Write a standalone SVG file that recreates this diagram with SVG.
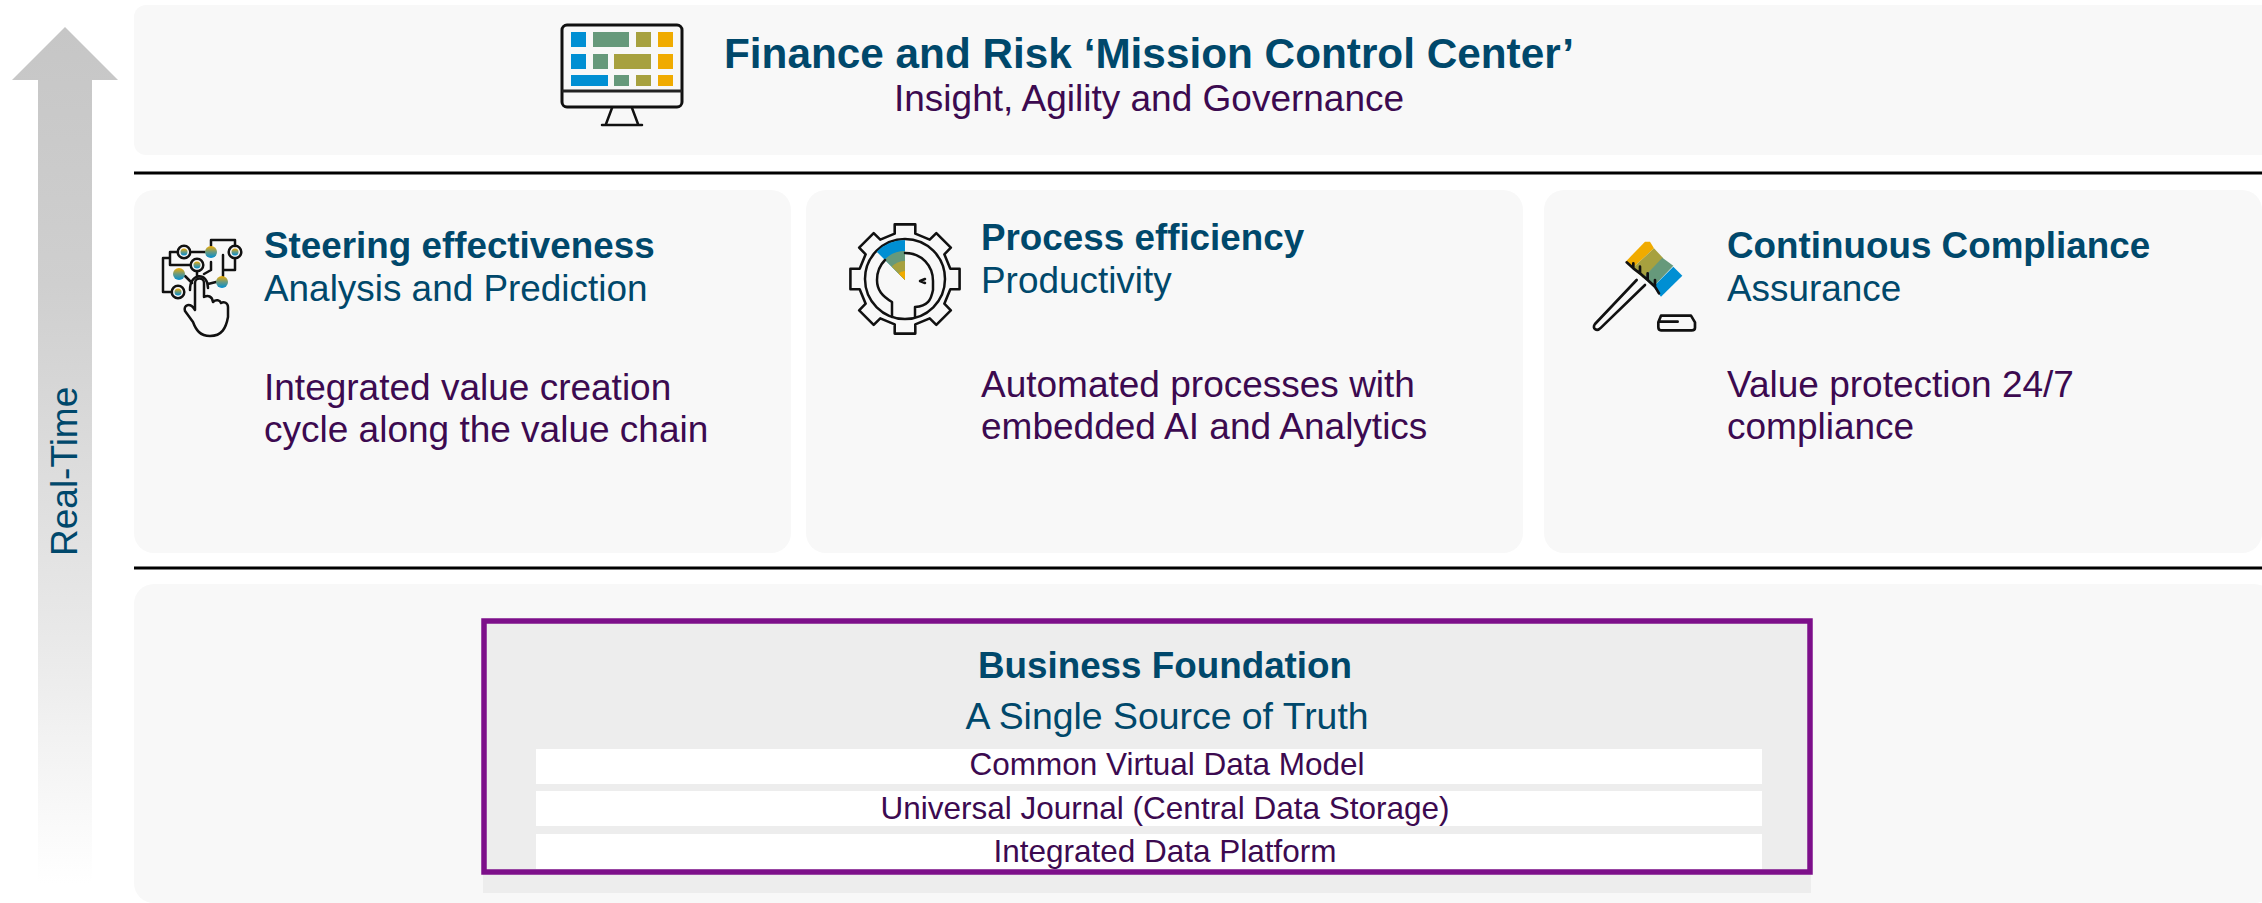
<svg xmlns="http://www.w3.org/2000/svg" width="2262" height="903" viewBox="0 0 2262 903">
<style>
text{font-family:"Liberation Sans",Arial,sans-serif}
.panel{fill:#f8f8f8}
.rule{stroke:#000;stroke-width:3}
.head{fill:#00486b;font-weight:700;font-size:36.800px}
.sub{fill:#00486b;font-size:36.900px}
.body{fill:#3c0a50;font-size:37px}
.row{fill:#3c0a50;font-size:31.500px;text-anchor:middle}
.ink{fill:none;stroke:#111;stroke-width:2.500;stroke-linecap:round;stroke-linejoin:round}
.wh{fill:#fff}
</style>
<defs>
<linearGradient id="arrowGrad" x1="0" y1="0" x2="0" y2="1"><stop offset="0" stop-color="#c6c6c6"/><stop offset=".3" stop-color="#cfcfcf"/><stop offset=".7" stop-color="#e8e8e8"/><stop offset="1" stop-color="#fff"/></linearGradient>
<linearGradient id="dot" x1="0" y1="0" x2="0" y2="1"><stop offset="0" stop-color="#f0ab00"/><stop offset=".5" stop-color="#6a9a80"/><stop offset="1" stop-color="#008fd3"/></linearGradient>
</defs>

<g id="real-time-arrow">
<path d="M65 27 L118 80 H92 V884 H38 V80 H12 Z" fill="url(#arrowGrad)"/>
<text transform="translate(77,556) rotate(-90)" fill="#00486b" font-size="37">Real-Time</text>
</g>

<g id="mission-control">
<rect class="panel" x="134" y="5" width="2140" height="150" rx="12"/>
<g id="monitor-icon">
<rect x="562" y="25" width="120" height="82" rx="5" fill="none" stroke="#111" stroke-width="3"/>
<path d="M562 91 H682" stroke="#222" stroke-width="3"/>
<path d="M612 108 L606 124 M632 108 L638 124 M602 125 H642" class="ink"/>
<rect x="571" y="32" width="15" height="15" fill="#008fd3"/><rect x="593" y="32" width="36" height="15" fill="#66997b"/><rect x="636" y="32" width="15" height="15" fill="#a7a13f"/><rect x="658" y="32" width="15" height="15" fill="#f0ab00"/>
<rect x="571" y="54" width="15" height="15" fill="#008fd3"/><rect x="593" y="54" width="15" height="15" fill="#66997b"/><rect x="614" y="54" width="37" height="15" fill="#a7a13f"/><rect x="658" y="54" width="15" height="15" fill="#f0ab00"/>
<rect x="571" y="75" width="37" height="11" fill="#008fd3"/><rect x="614" y="75" width="15" height="11" fill="#66997b"/><rect x="636" y="75" width="15" height="11" fill="#a7a13f"/><rect x="658" y="75" width="15" height="11" fill="#f0ab00"/>
</g>
<text x="724" y="68" class="head" style="font-size:42.300px">Finance and Risk ‘Mission Control Center’</text>
<text x="894" y="111" fill="#3c0a50" font-size="37">Insight, Agility and Governance</text>
</g>

<g id="connectors">
<path class="rule" d="M134 173 H2262"/>
<path class="rule" d="M134 568 H2262"/>
</g>

<g id="steering">
<rect class="panel" x="134" y="190" width="657" height="363" rx="20"/>
<g id="steering-icon">
<path class="ink" d="M211 246 V240 H235 V246 M205 252 H192 M178 252 H170 V258 H163 V292 H172 M170 258 V265 H190 M235 258 V270 H223 M223 276 V255 M211 262 V270 L204 274 M197 271 V276 M185 276 L192 283 M216 282 L208 284 M190 290 C190 272 208 272 208 288"/>
<circle cx="184" cy="252" r="6.300" class="ink"/><circle cx="184" cy="252" r="3.500" fill="url(#dot)"/>
<circle cx="197" cy="265" r="6.300" class="ink"/><circle cx="197" cy="265" r="3.500" fill="url(#dot)"/>
<circle cx="235" cy="252" r="6.300" class="ink"/><circle cx="235" cy="252" r="3.500" fill="url(#dot)"/>
<circle cx="178" cy="292" r="6.300" class="ink"/><circle cx="178" cy="292" r="3.500" fill="url(#dot)"/>
<circle cx="211" cy="252" r="6" fill="url(#dot)"/>
<circle cx="179" cy="274" r="6" fill="url(#dot)"/>
<circle cx="222" cy="282" r="6" fill="url(#dot)"/>
<path class="ink" style="fill:#f8f8f8" d="M195 310 V283 C195 277 204 277 204 283 V297 C208 295 212 296 213 302 C216 299 220 300 221 303 C224 301 228 303 228 307 V317 C226 328 222 336 210 336 C200 336 196 330 193 322 L185 311 C183 305 190 302 195 310 Z"/>
</g>
<text x="264" y="258" class="head">Steering effectiveness</text>
<text x="264" y="301" class="sub">Analysis and Prediction</text>
<text x="264" y="400" class="body">Integrated value creation</text>
<text x="264" y="442" class="body">cycle along the value chain</text>
</g>

<g id="process">
<rect class="panel" x="806" y="190" width="717" height="363" rx="20"/>
<g id="process-icon">
<path class="ink" transform="translate(905,279) scale(1.030)" d="M-10 -44 V-53 H10 V-44 L24 -38.200 L30.400 -44.500 L44.500 -30.400 L38.200 -24 L44 -10 H53 V10 H44 L38.200 24 L44.500 30.400 L30.400 44.500 L24 38.200 L10 44 V53 H-10 V44 L-24 38.200 L-30.400 44.500 L-44.500 30.400 L-38.200 24 L-44 10 H-53 V-10 H-44 L-38.200 -24 L-44.500 -30.400 L-30.400 -44.500 L-24 -38.200 Z"/>
<circle cx="905" cy="279" r="40" class="ink"/>
<path d="M905 280 L905 240 A40 40 0 0 0 876.700 251.700Z" fill="#008fd3"/>
<path d="M905 280 L905 251 A29 29 0 0 0 884.500 259.500Z" fill="#66997b"/>
<path d="M905 280 L905 261 A19 19 0 0 0 891.600 266.600Z" fill="#a7a13f"/>
<path d="M905 280 L905 271 A9 9 0 0 0 898.600 273.600Z" fill="#f0ab00"/>
<path class="ink" d="M905 253 C922 253 933 266 933 281 V290 C931 300 928 306 915 307 V317 M892 317 V302 C882 296 877 290 877 280 C877 272 880 265 885 260"/>
<path class="ink" d="M925 279 L920 281 L925 283"/>
</g>
<text x="981" y="250" class="head">Process efficiency</text>
<text x="981" y="293" class="sub">Productivity</text>
<text x="981" y="397" class="body">Automated processes with</text>
<text x="981" y="439" class="body">embedded AI and Analytics</text>
</g>

<g id="compliance">
<rect class="panel" x="1544" y="190" width="718" height="363" rx="20"/>
<g id="compliance-icon" transform="translate(1575,225) scale(.3333)">
<polygon points="152,110 210,50 225,50 237,70 172,130" fill="#f0ab00"/>
<polygon points="172,130 237,70 265,100 205,160" fill="#a7a13f"/>
<polygon points="205,158 262,98 295,122 235,185" fill="#66997b"/>
<polygon points="235,185 295,125 322,152 258,215" fill="#008fd3"/>
<path class="ink" style="stroke-width:8" d="M155 112 L175 130 V115 M175 130 L195 145 V125 M195 145 L218 165 V145 M218 165 L240 185 V165 M240 185 L252 205"/>
<path class="ink" style="stroke-width:8" d="M185 165 L60 297 C50 310 65 322 78 308 L210 180"/>
<path class="ink" style="stroke-width:8" d="M258 272 H348 L360 292 V308 C360 314 356 316 350 316 H258 C252 316 250 312 250 306 V292 Z M252 290 H308"/>
</g>
<text x="1727" y="258" class="head">Continuous Compliance</text>
<text x="1727" y="301" class="sub">Assurance</text>
<text x="1727" y="397" class="body">Value protection 24/7</text>
<text x="1727" y="439" class="body">compliance</text>
</g>

<g id="foundation">
<rect class="panel" x="134" y="584" width="2140" height="319" rx="20"/>
<rect x="483" y="620" width="1328" height="273" fill="#ededed"/>
<rect class="wh" x="536" y="749" width="1226" height="35"/>
<rect class="wh" x="536" y="791" width="1226" height="35"/>
<rect class="wh" x="536" y="834" width="1226" height="35"/>
<rect x="484" y="621" width="1326" height="251" fill="none" stroke="#7d0f8a" stroke-width="5.500"/>
<text x="1165" y="678" class="head" style="text-anchor:middle">Business Foundation</text>
<text x="1167" y="729" class="sub" style="text-anchor:middle;font-size:37.400px">A Single Source of Truth</text>
<text x="1167" y="775" class="row">Common Virtual Data Model</text>
<text x="1165" y="819" class="row">Universal Journal (Central Data Storage)</text>
<text x="1165" y="862" class="row">Integrated Data Platform</text>
</g>
</svg>
